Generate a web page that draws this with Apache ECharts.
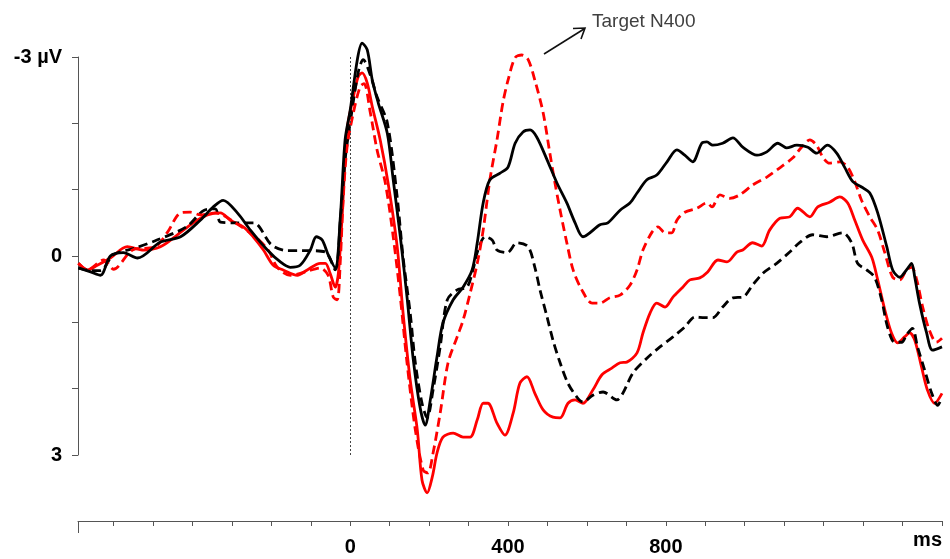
<!DOCTYPE html>
<html>
<head>
<meta charset="utf-8">
<script src="https://cdn.jsdelivr.net/npm/echarts@6/dist/echarts.min.js"></script>
<style>
html,body{margin:0;padding:0;background:#fff;}
#chart{width:950px;height:559px;}
</style>
</head>
<body>
<div id="chart"></div>
<script>
// Time (ms) / amplitude (µV, negative up) pairs
const blackSolid = [[-689,0.18],[-658,0.24],[-633,0.29],[-608,0.0],[-575,-0.05],[-539,0.03],[-481,-0.21],[-430,-0.29],[-380,-0.54],[-347,-0.74],[-322,-0.84],[-286,-0.65],[-253,-0.39],[-210,-0.09],[-177,0.09],[-152,0.17],[-127,0.14],[-101,-0.09],[-86,-0.29],[-71,-0.24],[-56,-0.02],[-38,0.18],[-25,-0.59],[-13,-1.75],[0,-2.20],[18,-2.96],[30,-3.21],[43,-3.11],[56,-2.65],[71,-2.31],[94,-1.85],[109,-1.15],[127,-0.29],[144,0.62],[160,1.57],[177,2.28],[190,2.55],[203,2.17],[220,1.52],[235,1.01],[261,0.66],[286,0.47],[309,0.21],[322,-0.20],[337,-0.80],[354,-1.15],[380,-1.25],[400,-1.34],[418,-1.70],[438,-1.87],[456,-1.90],[473,-1.79],[499,-1.45],[524,-1.10],[549,-0.80],[570,-0.50],[590,-0.29],[633,-0.47],[653,-0.50],[684,-0.69],[709,-0.80],[727,-0.95],[752,-1.15],[777,-1.22],[803,-1.42],[828,-1.60],[848,-1.52],[868,-1.42],[891,-1.70],[904,-1.72],[919,-1.67],[944,-1.70],[970,-1.78],[995,-1.64],[1031,-1.52],[1056,-1.57],[1084,-1.70],[1106,-1.63],[1132,-1.67],[1160,-1.64],[1182,-1.55],[1210,-1.67],[1233,-1.55],[1253,-1.34],[1274,-1.12],[1296,-1.04],[1317,-0.95],[1337,-0.65],[1360,-0.14],[1375,0.21],[1393,0.32],[1410,0.21],[1423,0.11],[1431,0.32],[1443,0.71],[1461,1.16],[1476,1.42],[1500,1.37]];

const blackDashed = [[-689,0.18],[-658,0.22],[-633,0.22],[-600,-0.02],[-545,-0.12],[-490,-0.24],[-415,-0.44],[-370,-0.69],[-342,-0.71],[-329,-0.51],[-296,-0.50],[-245,-0.50],[-200,-0.17],[-160,-0.08],[-122,-0.08],[-101,-0.08],[-63,-0.06],[-38,0.21],[-25,-0.54],[-13,-1.45],[0,-2.01],[20,-2.76],[33,-2.96],[51,-2.73],[68,-2.40],[94,-2.01],[119,-0.89],[134,0.02],[152,0.86],[165,1.61],[182,2.22],[195,2.44],[210,2.02],[228,1.37],[246,0.66],[271,0.51],[296,0.47],[311,0.21],[324,-0.09],[342,-0.29],[360,-0.24],[372,-0.09],[398,-0.05],[423,-0.20],[451,-0.14],[468,0.17],[481,0.51],[499,0.92],[514,1.27],[532,1.61],[552,1.92],[575,2.13],[590,2.20],[615,2.10],[641,2.05],[676,2.17],[691,2.07],[717,1.76],[752,1.54],[785,1.37],[818,1.22],[848,1.07],[874,0.92],[899,0.93],[919,0.93],[944,0.77],[970,0.63],[995,0.62],[1020,0.44],[1046,0.26],[1081,0.11],[1114,-0.06],[1139,-0.20],[1172,-0.32],[1208,-0.29],[1248,-0.35],[1271,-0.20],[1286,0.11],[1309,0.21],[1329,0.32],[1347,0.66],[1362,1.07],[1380,1.30],[1398,1.30],[1410,1.19],[1425,1.09],[1438,1.37],[1456,1.72],[1474,2.07],[1489,2.25],[1500,2.13]];

const redSolid = [[-689,0.11],[-666,0.21],[-641,0.14],[-608,0.03],[-565,-0.14],[-524,-0.09],[-481,-0.14],[-438,-0.32],[-398,-0.50],[-362,-0.62],[-329,-0.65],[-304,-0.54],[-271,-0.44],[-246,-0.29],[-220,-0.09],[-195,0.14],[-170,0.21],[-134,0.29],[-109,0.21],[-76,0.11],[-63,0.11],[-51,0.26],[-38,0.47],[-30,0.26],[-20,-0.65],[-8,-1.90],[8,-2.40],[20,-2.70],[30,-2.76],[43,-2.61],[56,-2.25],[76,-1.75],[96,-1.10],[119,-0.14],[134,0.86],[152,1.87],[170,2.62],[182,3.38],[195,3.57],[208,3.33],[220,2.97],[235,2.73],[261,2.67],[286,2.73],[304,2.73],[322,2.47],[337,2.22],[349,2.22],[372,2.52],[392,2.70],[413,2.37],[430,1.92],[448,1.82],[468,2.07],[489,2.32],[514,2.43],[532,2.44],[552,2.22],[570,2.17],[590,2.22],[615,2.02],[638,1.79],[663,1.69],[684,1.61],[701,1.60],[727,1.46],[742,1.16],[760,0.86],[777,0.71],[798,0.77],[818,0.62],[843,0.47],[861,0.36],[886,0.33],[906,0.24],[932,0.06],[955,0.09],[980,-0.06],[995,-0.09],[1020,-0.20],[1043,-0.15],[1063,-0.39],[1089,-0.57],[1114,-0.59],[1134,-0.72],[1165,-0.59],[1185,-0.74],[1215,-0.81],[1241,-0.89],[1261,-0.80],[1279,-0.54],[1299,-0.24],[1322,0.02],[1337,0.36],[1355,0.81],[1372,1.16],[1388,1.31],[1405,1.22],[1418,1.16],[1431,1.27],[1448,1.67],[1463,2.02],[1481,2.22],[1500,2.07]];

const redDashed = [[-689,0.11],[-666,0.21],[-625,0.06],[-600,0.20],[-552,-0.09],[-494,-0.14],[-463,-0.36],[-430,-0.65],[-405,-0.66],[-380,-0.62],[-342,-0.65],[-291,-0.50],[-241,-0.29],[-208,-0.09],[-185,0.17],[-152,0.29],[-114,0.24],[-76,0.18],[-56,0.29],[-43,0.62],[-33,0.66],[-25,0.06],[-18,-0.84],[-8,-1.64],[8,-2.16],[25,-2.55],[35,-2.60],[51,-2.16],[68,-1.60],[89,-1.10],[109,-0.29],[127,0.62],[144,1.61],[165,2.62],[185,3.23],[197,3.27],[210,2.97],[228,2.37],[248,1.61],[271,1.22],[286,0.97],[304,0.56],[322,0.11],[337,-0.39],[354,-1.15],[372,-1.75],[387,-2.31],[400,-2.65],[418,-2.99],[435,-3.03],[451,-2.96],[468,-2.65],[489,-2.16],[506,-1.55],[519,-1.10],[532,-0.69],[549,-0.20],[565,0.21],[587,0.51],[613,0.71],[633,0.71],[658,0.63],[684,0.59],[709,0.44],[727,0.21],[742,-0.09],[765,-0.36],[780,-0.44],[798,-0.35],[815,-0.35],[828,-0.54],[848,-0.66],[879,-0.72],[904,-0.80],[917,-0.74],[937,-0.92],[962,-0.87],[987,-0.92],[1020,-1.07],[1056,-1.19],[1089,-1.33],[1122,-1.48],[1144,-1.64],[1165,-1.75],[1182,-1.67],[1198,-1.49],[1215,-1.40],[1241,-1.42],[1261,-1.34],[1279,-1.12],[1296,-0.84],[1317,-0.59],[1337,-0.39],[1355,-0.05],[1375,0.32],[1393,0.36],[1410,0.21],[1423,0.17],[1436,0.36],[1451,0.77],[1468,1.12],[1486,1.30],[1500,1.24]];

const xTickValues = [-690,-600,-500,-400,-300,-200,-100,0,100,200,300,400,500,600,700,800,900,1000,1100,1200,1300,1400,1500];
const xLabelValues = [0,400,800];
const yTickValues = [-3,-2,-1,0,1,2,3];
const yLabelValues = [-3,0,3];

const FONT = 'Liberation Sans, Arial, sans-serif';
const chart = echarts.init(document.getElementById('chart'), null, {renderer:'canvas'});

function lineSeries(name, data, color, dashed, z) {
  return {
    name, type:'line', data, showSymbol:false, symbol:'none', smooth:0.3, clip:false, z,
    lineStyle:{color, width:2.8, type: dashed ? [9,5] : 'solid', cap:'butt', join:'round'},
    animation:false
  };
}

const series = [
  lineSeries('Red solid', redSolid, '#ff0000', false, 2),
  lineSeries('Black dashed', blackDashed, '#000000', true, 3),
  lineSeries('Red dashed', redDashed, '#ff0000', true, 4),
  lineSeries('Black solid', blackSolid, '#000000', false, 5)
];
series[0].markLine = {
  silent:true, symbol:['none','none'], label:{show:false},
  lineStyle:{color:'#444', type:[2,2], width:1},
  data:[{xAxis:0}], animation:false
};

chart.setOption({
  animation:false,
  backgroundColor:'#fff',
  grid:{left:78, right:8, top:57, bottom:104},
  xAxis:{
    type:'value', min:-690, max:1500, offset:66, position:'bottom',
    axisLine:{show:true, onZero:false, lineStyle:{color:'#555', width:1}},
    axisTick:{show:true, length:5, customValues:xTickValues, lineStyle:{color:'#555'}},
    axisLabel:{customValues:xLabelValues, margin:16, fontFamily:FONT, fontWeight:'bold', fontSize:20, color:'#000'},
    splitLine:{show:false},
    name:'ms', nameLocation:'end', nameGap:0,
    nameTextStyle:{fontFamily:FONT, fontWeight:'bold', fontSize:20, color:'#000', align:'right', verticalAlign:'top', padding:[9,0,0,0]}
  },
  yAxis:{
    type:'value', min:-3, max:3, inverse:true, position:'left',
    axisLine:{show:true, onZero:false, lineStyle:{color:'#555', width:1}},
    axisTick:{show:true, length:6, customValues:yTickValues, lineStyle:{color:'#555'}},
    axisLabel:{customValues:yLabelValues, margin:16, fontFamily:FONT, fontWeight:'bold', fontSize:20, color:'#000',
      formatter:v => v === -3 ? '-3 µV' : String(v)},
    splitLine:{show:false}
  },
  graphic:[
    {type:'line', shape:{x1:78.5, y1:521, x2:78.5, y2:533}, style:{stroke:'#555', lineWidth:1}},
    {type:'line', shape:{x1:544, y1:54, x2:584, y2:29}, style:{stroke:'#111', lineWidth:1.6}},
    {type:'polyline', shape:{points:[[573,28.5],[585,28],[581,39]]}, style:{stroke:'#111', lineWidth:1.6, fill:null}},
    {type:'text', left:592, top:12, style:{text:'Target N400', font:'19px ' + FONT, fill:'#404040'}}
  ],
  series
});
</script>
</body>
</html>
